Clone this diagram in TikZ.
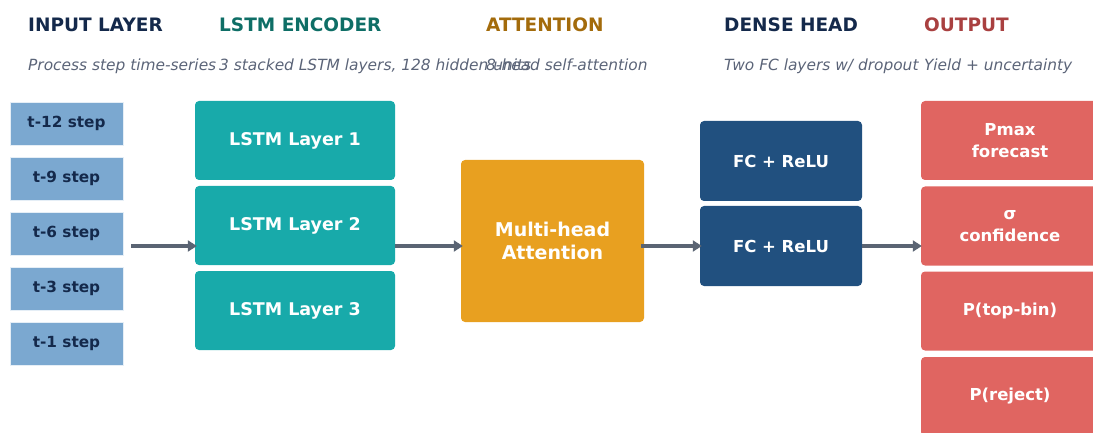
\documentclass[tikz,border=0pt]{standalone}
\usepackage{fontspec}
\setmainfont{DejaVu Sans}
\usetikzlibrary{positioning}
\usetikzlibrary{arrows.meta,calc}
\definecolor{hdnavy}{HTML}{14294B}
\definecolor{hdteal}{HTML}{0E6E66}
\definecolor{hdgold}{HTML}{A36B0B}
\definecolor{hdred}{HTML}{A94040}
\definecolor{subgray}{HTML}{5B6478}
\definecolor{stepblue}{HTML}{7BA8D0}
\definecolor{lstmteal}{HTML}{18AAAA}
\definecolor{attnorange}{HTML}{E8A020}
\definecolor{fcblue}{HTML}{21507F}
\definecolor{outred}{HTML}{E06561}
\definecolor{flowgray}{HTML}{5A6473}
\tikzstyle{stagetitle}=[anchor=base west,inner sep=0pt,font=\fontsize{18.5}{22}\selectfont\bfseries]
\tikzstyle{stagenote}=[anchor=base west,inner sep=0pt,text=subgray,font=\fontsize{15.4}{18}\selectfont\itshape]
\tikzstyle{stepbox}=[rectangle,fill=stepblue,draw=white!80!stepblue,minimum width=113pt,minimum height=43pt,inner sep=0pt,text=hdnavy,font=\fontsize{15.3}{18}\selectfont\bfseries]
\tikzstyle{block}=[rectangle,rounded corners=4pt,inner sep=0pt,text=white,align=center,font=\fontsize{17.5}{21}\selectfont\bfseries]
\tikzstyle{lstmbox}=[block,fill=lstmteal,minimum width=200pt,minimum height=79pt]
\tikzstyle{fcbox}=[block,fill=fcblue,minimum width=162pt,minimum height=80pt,font=\fontsize{16.5}{20}\selectfont\bfseries]
\tikzstyle{outbox}=[block,fill=outred,minimum width=178pt,minimum height=79pt,font=\fontsize{16.5}{22}\selectfont\bfseries]
\tikzstyle{flow} = [draw,line width=3.2pt,flowgray,-{Triangle[length=9pt,width=11pt]}]
\begin{document}
\begin{tikzpicture}[x=1pt,y=-1pt]

  \useasboundingbox (0,0) rectangle (1093,433);

  % headers
  \foreach \x/\name/\label/\col in {28/input/INPUT LAYER/hdnavy, 219/encoder/LSTM ENCODER/hdteal,
      486/attention/ATTENTION/hdgold, 724/dense/DENSE HEAD/hdnavy, 924/output/OUTPUT/hdred}
    \node[stagetitle,text=\col] (title-\name) at (\x,32) {\label};

  \foreach \x/\name/\label in {28/input/{Process step time-series}, 219/encoder/{3 stacked LSTM layers, 128 hidden units},
      486/attention/{8-head self-attention}, 724/dense/{Two FC layers w/ dropout}, 924/output/{Yield + uncertainty}}
    \node[stagenote] (note-\name) at (\x,71) {\label};

  % input steps
  \foreach \y/\name/\label in {123.5/in1/t-12, 178.5/in2/t-9, 233.5/in3/t-6, 288.5/in4/t-3, 343.5/in5/t-1}
    \node[stepbox] (\name) at (66.5,\y) {\label\ step};

  % encoder
  \foreach \y/\name/\label in {140.5/lstm1/1, 225.5/lstm2/2, 310.5/lstm3/3}
    \node[lstmbox] (\name) at (295,\y) {LSTM Layer \label};

  \node[block,fill=attnorange,minimum width=183pt,minimum height=162pt,font=\fontsize{19}{23}\selectfont\bfseries]
    (attn) at (552.5,241) {Multi-head\\Attention};

  % dense head
  \node[fcbox] (fc1) at (781,161) {FC + ReLU};
  \node[fcbox] (fc2) at (781,246) {FC + ReLU};

  % outputs
  \foreach \y/\name/\label in {140.5/out1/{Pmax\\forecast}, 226/out2/{σ\\confidence}, 311/out3/{P(top-bin)}, 396.5/out4/{P(reject)}}
    \node[outbox] (\name) at (1010,\y) {\label};

  \path[flow] ([xshift=8pt]in3.east |- fc2) -- ([xshift=2pt]lstm2.west |- fc2);
  \path[flow] (lstm2.east |- fc2) -- ([xshift=2pt]attn.west |- fc2);
  \path[flow] ([xshift=-3pt]attn.east |- fc2) -- ([xshift=2pt]fc2.west);
  \path[flow] (fc2.east) -- ([xshift=1pt]out2.west |- fc2);

\end{tikzpicture}
\end{document}
